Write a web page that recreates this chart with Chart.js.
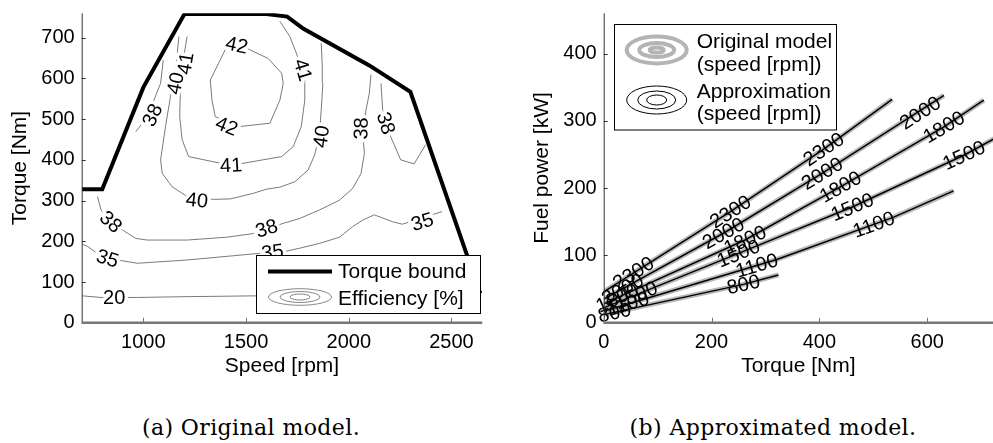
<!DOCTYPE html>
<html>
<head>
<meta charset="utf-8">
<script src="https://cdn.jsdelivr.net/npm/chart.js@4.4.0/dist/chart.umd.min.js"></script>
<style>
body { margin: 0; background: #fff; width: 993px; height: 443px; position: relative; overflow: hidden; }
canvas { position: absolute; top: 0; }
#left { left: 0; }
#right { left: 490px; }
.cap { position: absolute; top: 414px; line-height: 28px; font-family: "DejaVu Serif", serif; font-size: 22px; letter-spacing: 0.4px; white-space: nowrap; transform: translateX(-50%); }
</style>
</head>
<body>
<canvas id="left" width="490" height="390"></canvas>
<canvas id="right" width="503" height="390"></canvas>
<div class="cap" style="left:251px">(a) Original model.</div>
<div class="cap" style="left:773px">(b) Approximated model.</div>
<script>
// ---- (a) engine map: [speed rpm, torque Nm]
const torqueBound = [[700,328],[800,328],[1000,578],[1200,758],[1600,758],[1700,752],[1780,722],[2100,632],[2300,567],[2640,72]];
const eff42 = [[1406,678],[1503,674],[1608,649],[1673,613],[1681,588],[1665,547],[1616,490],[1471,482],[1350,506],[1334,547],[1326,596],[1366,637],[1406,678]];
const eff41 = [[1213,703],[1189,629],[1181,580],[1177,506],[1189,449],[1221,408],[1382,391],[1479,391],[1673,408],[1729,432],[1769,482],[1786,547],[1786,596],[1745,662],[1713,703],[1665,740]];
const eff40 = [[1173,703],[1156,613],[1132,555],[1108,482],[1084,400],[1092,367],[1140,334],[1213,310],[1342,303],[1423,304],[1536,318],[1600,328],[1665,333],[1737,346],[1802,375],[1834,412],[1858,465],[1866,523],[1874,588],[1871,629],[1866,686]];
const eff38a = [[963,469],[995,490],[1052,547],[1084,588],[1097,645]];
const eff38b = [[777,310],[794,277],[858,240],[898,228],[963,207],[1019,203],[1213,203],[1406,210],[1536,219],[1681,244],[1761,256],[1858,277],[1955,301],[2019,330],[2060,367],[2076,416],[2068,465],[2084,523],[2100,563],[2108,609]];
const eff38c = [[2157,588],[2165,523],[2197,465],[2253,400],[2318,390],[2374,437]];
const eff35 = [[703,193],[729,187],[777,170],[874,154],[971,146],[1213,154],[1536,169],[1681,174],[1761,183],[1858,195],[1955,210],[2019,236],[2068,252],[2124,265],[2213,248],[2261,242],[2455,273]];
const eff20 = [[703,66],[794,62],[971,62],[1213,64],[1552,66],[1900,68]];
// contour labels: speed, torque, text, angle (deg)
const effLabels = [
  [1455,682,'42',12], [1406,483,'42',22],
  [1205,637,'41',-80], [1777,621,'41',73], [1427,387,'41',-3],
  [1156,588,'40',-78], [1261,301,'40',6], [1866,457,'40',-82],
  [1044,510,'38',-65], [2060,477,'38',-88], [2181,490,'38',73], [842,248,'38',43], [1600,232,'38',-18],
  [2358,248,'35',-17], [826,158,'35',18], [1629,174,'35',-7],
  [858,61,'20',0]
];
const speedTicks = [1000, 1500, 2000, 2500];
const torqueTicks = [0, 100, 200, 300, 400, 500, 600, 700];

// ---- (b) fuel power vs torque per speed
const speeds = [800, 1100, 1500, 1800, 2000, 2300];
const torque800 = [0, 259, 324];            const power800 = [12, 57, 71];
const torque1100 = [0, 321, 538, 649];      const power1100 = [17, 94, 157, 196];
const torque1500 = [0, 250, 461, 668, 730]; const power1500 = [22, 103, 172, 249, 276];
const torque1800 = [0, 262, 439, 631, 705]; const power1800 = [28, 123, 202, 291, 331];
const torque2000 = [0, 222, 405, 631];      const power2000 = [35, 133, 222, 338];
const torque2300 = [0, 235, 408, 535];      const power2300 = [46, 165, 258, 332];
const labels800 = [[20,15],[259,57]];
const labels1100 = [[45,28],[284,85],[501,146]];
const labels1500 = [[60,41],[250,103],[461,172],[668,249]];
const labels1800 = [[25,37],[262,123],[439,202],[631,291]];
const labels2000 = [[35,50],[222,133],[405,222],[587,312]];
const labels2300 = [[55,74],[235,165],[408,258]];
const fuelTorqueTicks = [0, 200, 400, 600];
const fuelPowerTicks = [0, 100, 200, 300, 400];

const torqueBySpeed = [torque800, torque1100, torque1500, torque1800, torque2000, torque2300];
const powerBySpeed = [power800, power1100, power1500, power1800, power2000, power2300];
const labelsBySpeed = [labels800, labels1100, labels1500, labels1800, labels2000, labels2300];

const sans = '"Liberation Sans", Arial, Helvetica, sans-serif';
Chart.defaults.font.family = sans;
Chart.defaults.font.size = 20;
Chart.defaults.color = '#000';
Chart.defaults.animation = false;

// order: lower number is drawn on top
const line = (pts, color, width, order) => ({
  data: pts.map(p => ({ x: p[0], y: p[1] })),
  showLine: true, borderColor: color, borderWidth: width,
  pointRadius: 0, fill: false, tension: 0, order
});

const drawAxes = (chart) => {
  const { ctx, chartArea: a, scales: { x, y } } = chart;
  ctx.save();
  ctx.strokeStyle = '#333';
  ctx.lineWidth = 1;
  ctx.beginPath(); ctx.moveTo(a.left + 0.5, a.top); ctx.lineTo(a.left + 0.5, a.bottom); ctx.stroke();
  y.ticks.forEach(t => {
    const py = Math.round(y.getPixelForValue(t.value)) + 0.5;
    ctx.beginPath(); ctx.moveTo(a.left, py); ctx.lineTo(a.left + 4, py); ctx.stroke();
  });
  ctx.strokeStyle = '#777';
  x.ticks.forEach(t => {
    const px = Math.round(x.getPixelForValue(t.value)) + 0.5;
    ctx.beginPath(); ctx.moveTo(px, a.bottom); ctx.lineTo(px, a.bottom - 5); ctx.stroke();
  });
  ctx.lineWidth = 2.5;
  ctx.beginPath(); ctx.moveTo(a.left, a.bottom); ctx.lineTo(a.right, a.bottom); ctx.stroke();
  ctx.restore();
};

const ellipses = (ctx, cx, cy, rxs, rys, color, width) => {
  ctx.strokeStyle = color;
  ctx.lineWidth = width;
  rxs.forEach((rx, i) => {
    ctx.beginPath(); ctx.ellipse(cx, cy, rx, rys[i], 0, 0, Math.PI * 2); ctx.stroke();
  });
};

const scaleOpts = (min, max, ticks, fitSize, title, titlePad, isX) => ({
  type: 'linear', min, max,
  grid: { display: false, drawTicks: false },
  border: { display: false },
  ticks: { autoSkip: false, maxRotation: 0, padding: isX ? 8 : 7, font: { size: 20 }, callback: v => String(v) },
  afterBuildTicks: s => { s.ticks = ticks.map(v => ({ value: v })); },
  afterFit: s => {
    if (isX) s.height = fitSize; else s.width = fitSize;
    s.paddingTop = 0; s.paddingBottom = 0; s.paddingLeft = 0; s.paddingRight = 0;
  },
  title: { display: true, text: title, font: { size: 21 }, padding: titlePad }
});

// ---- chart (a)
const leftPlugin = {
  id: 'leftExtras',
  afterDatasetsDraw(chart) {
    const { ctx, scales: { x, y } } = chart;
    ctx.save();
    ctx.font = '20px ' + sans;
    ctx.textAlign = 'center';
    ctx.textBaseline = 'middle';
    effLabels.forEach(([s, t, txt, ang]) => {
      ctx.save();
      ctx.translate(x.getPixelForValue(s), y.getPixelForValue(t));
      ctx.rotate(ang * Math.PI / 180);
      ctx.lineWidth = 7; ctx.strokeStyle = '#fff'; ctx.lineJoin = 'round';
      ctx.strokeText(txt, 0, 1);
      ctx.fillStyle = '#000';
      ctx.fillText(txt, 0, 1);
      ctx.restore();
    });
    ctx.restore();
    drawAxes(chart);
  },
  afterDraw(chart) {
    const ctx = chart.ctx;
    ctx.save();
    ctx.fillStyle = '#fff';
    ctx.fillRect(256.5, 255.5, 224, 58);
    ctx.strokeStyle = '#000'; ctx.lineWidth = 1;
    ctx.strokeRect(256.5, 255.5, 224, 58);
    ctx.lineWidth = 4;
    ctx.beginPath(); ctx.moveTo(268, 271.5); ctx.lineTo(332, 271.5); ctx.stroke();
    ellipses(ctx, 300, 297, [31.5, 20, 10], [8.3, 5.5, 3], '#888', 1);
    ctx.fillStyle = '#000';
    ctx.font = '21px ' + sans;
    ctx.textBaseline = 'middle';
    ctx.fillText('Torque bound', 338, 272);
    ctx.fillText('Efficiency [%]', 338, 299);
    ctx.restore();
  }
};

const contourGrey = '#7a7a7a';
new Chart(document.getElementById('left'), {
  type: 'scatter',
  data: {
    datasets: [
      line(torqueBound, '#000', 4, 2),
      line(eff42, contourGrey, 1, 1), line(eff41, contourGrey, 1, 1), line(eff40, contourGrey, 1, 1),
      line(eff38a, contourGrey, 1, 1), line(eff38b, contourGrey, 1, 1), line(eff38c, contourGrey, 1, 1),
      line(eff35, contourGrey, 1, 1), line(eff20, contourGrey, 1, 1)
    ]
  },
  options: {
    responsive: false,
    devicePixelRatio: 1,
    layout: { padding: { top: 13.3, right: 7.7, bottom: 0, left: 0 } },
    plugins: { legend: { display: false }, tooltip: { enabled: false } },
    scales: {
      x: scaleOpts(700, 2650, speedTicks, 67.3, 'Speed [rpm]', { top: 0, bottom: 11 }, true),
      y: scaleOpts(0, 760, torqueTicks, 81.7, 'Torque [Nm]', { top: 8, bottom: 0 }, false)
    }
  },
  plugins: [leftPlugin]
});

// ---- chart (b)
const rightPlugin = {
  id: 'rightExtras',
  afterDatasetsDraw(chart) {
    const { ctx, scales: { x, y } } = chart;
    ctx.save();
    ctx.font = '20px ' + sans;
    ctx.textAlign = 'center';
    ctx.textBaseline = 'middle';
    ctx.fillStyle = '#000';
    speeds.forEach((sp, k) => {
      const tq = torqueBySpeed[k], pw = powerBySpeed[k];
      labelsBySpeed[k].forEach(([t, p]) => {
        let i = 0;
        while (i < tq.length - 2 && t > tq[i + 1]) i++;
        const ang = Math.atan2(y.getPixelForValue(pw[i + 1]) - y.getPixelForValue(pw[i]),
                               x.getPixelForValue(tq[i + 1]) - x.getPixelForValue(tq[i]));
        ctx.save();
        ctx.translate(x.getPixelForValue(t), y.getPixelForValue(p));
        ctx.rotate(ang);
        ctx.fillText(String(sp), 0, 1);
        ctx.restore();
      });
    });
    ctx.restore();
    drawAxes(chart);
  },
  afterDraw(chart) {
    const ctx = chart.ctx;
    ctx.save();
    ctx.fillStyle = '#fff';
    ctx.fillRect(124.5, 24.5, 222, 105.5);
    ctx.strokeStyle = '#000'; ctx.lineWidth = 1;
    ctx.strokeRect(124.5, 24.5, 222, 105.5);
    ellipses(ctx, 166.7, 50, [30, 17.5, 7], [13.5, 7, 2.5], '#b4b4b4', 4);
    ellipses(ctx, 166.7, 100, [30, 19, 10], [14, 9, 5], '#000', 1);
    ctx.fillStyle = '#000';
    ctx.font = '21px ' + sans;
    ctx.textBaseline = 'middle';
    ctx.fillText('Original model', 206.7, 42);
    ctx.fillText('(speed [rpm])', 206.7, 65);
    ctx.fillText('Approximation', 206.7, 92);
    ctx.fillText('(speed [rpm])', 206.7, 114);
    ctx.restore();
  }
};

const pairs = (tq, pw) => tq.map((t, i) => [t, pw[i]]);
const rightSets = [];
speeds.forEach((sp, k) => rightSets.push(line(pairs(torqueBySpeed[k], powerBySpeed[k]), '#000', 1.5, 1)));
speeds.forEach((sp, k) => rightSets.push(line(pairs(torqueBySpeed[k], powerBySpeed[k]), '#b8b8b8', 5, 2)));

new Chart(document.getElementById('right'), {
  type: 'scatter',
  data: { datasets: rightSets },
  options: {
    responsive: false,
    devicePixelRatio: 1,
    layout: { padding: { top: 13.3, right: 0, bottom: 0, left: 0 } },
    plugins: { legend: { display: false }, tooltip: { enabled: false } },
    scales: {
      x: scaleOpts(0, 722, fuelTorqueTicks, 67.3, 'Torque [Nm]', { top: 0, bottom: 11 }, true),
      y: scaleOpts(0, 460, fuelPowerTicks, 113.7, 'Fuel power [kW]', { top: 39.7, bottom: 0 }, false)
    }
  },
  plugins: [rightPlugin]
});
</script>
</body>
</html>
